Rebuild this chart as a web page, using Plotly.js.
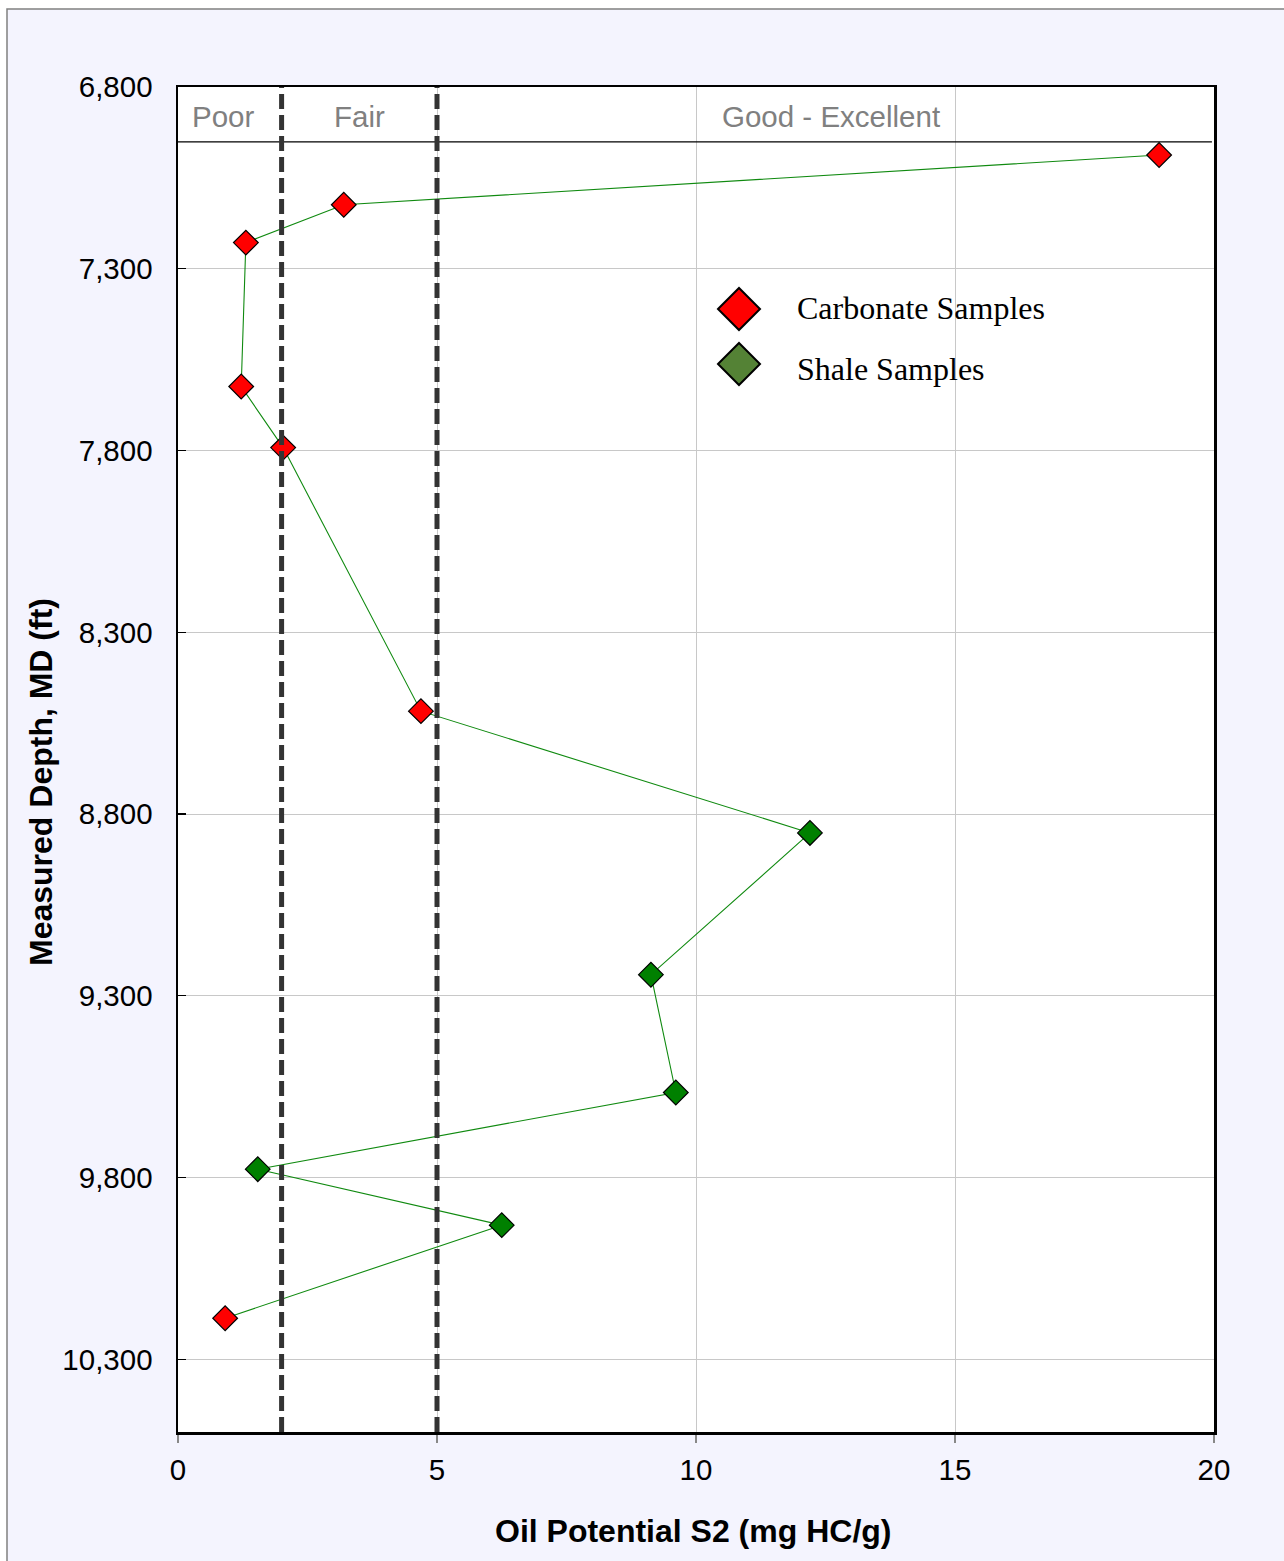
<!DOCTYPE html>
<html>
<head>
<meta charset="utf-8">
<script src="https://cdn.plot.ly/plotly-3.0.1.min.js"></script>
<style>
  html, body { margin: 0; padding: 0; background: #ffffff; }
  #chart { width: 1284px; height: 1561px; }
</style>
</head>
<body>
<div id="chart"></div>
<script>
// Sample depths (ft, MD) and oil potential S2 (mg HC/g), in depth order
const depthFt   = [6987, 7124, 7228, 7624, 7792, 8517, 8852, 9242, 9566, 9777, 9931, 10187];
const s2Values  = [18.94, 3.20, 1.31, 1.22, 2.03, 4.69, 12.20, 9.13, 9.61, 1.54, 6.25, 0.91];
const lithology = ['Carbonate', 'Carbonate', 'Carbonate', 'Carbonate', 'Carbonate', 'Carbonate',
                   'Shale', 'Shale', 'Shale', 'Shale', 'Shale', 'Carbonate'];

// Source-rock quality class boundaries on S2 and their labels
const classLimits = [2, 5];
const classLabels = ['Poor', 'Fair', 'Good - Excellent'];
const classLabelX = [0.87, 3.51, 12.6];
const headerDepth = 6951;

const depthTicks = [6800, 7300, 7800, 8300, 8800, 9300, 9800, 10300];
const legendNames = ['Carbonate Samples', 'Shale Samples'];
const xTitle = 'Oil Potential S2 (mg HC/g)';
const yTitle = 'Measured Depth, MD (ft)';

const SANS = 'Liberation Sans, Arial, sans-serif';
const SERIF = 'Liberation Serif, Times New Roman, serif';
const BG = '#F4F4FE';

// page geometry (px) used to place the frame, legend keys and titles
const W = 1284, H = 1561;
const M = { l: 178, r: 70, t: 87, b: 129 };
const PW = W - M.l - M.r, PH = H - M.t - M.b;
const px = x => (x - M.l) / PW;
const py = y => (H - M.b - y) / PH;

function pick(kind, arr) {
  return arr.filter((_, i) => lithology[i] === kind);
}

const markerBase = { symbol: 'diamond', size: 19, line: { color: '#000000', width: 1.2 } };

const traces = [
  {
    type: 'scatter', mode: 'lines', x: s2Values, y: depthFt,
    line: { color: '#108A10', width: 1.1 }, hoverinfo: 'skip', showlegend: false
  },
  {
    type: 'scatter', mode: 'markers', name: legendNames[0],
    x: pick('Carbonate', s2Values), y: pick('Carbonate', depthFt),
    marker: Object.assign({ color: '#FF0000' }, markerBase), showlegend: false
  },
  {
    type: 'scatter', mode: 'markers', name: legendNames[1],
    x: pick('Shale', s2Values), y: pick('Shale', depthFt),
    marker: Object.assign({ color: '#008000' }, markerBase), showlegend: false
  }
];

const shapes = [
  // page background with its frame
  { type: 'rect', xref: 'paper', yref: 'paper', x0: px(7), x1: px(1300), y0: py(1580), y1: py(9),
    fillcolor: BG, line: { color: '#808080', width: 1.5 }, layer: 'below' },
  // white plotting area
  { type: 'rect', xref: 'paper', yref: 'paper', x0: 0, x1: 1, y0: 0, y1: 1,
    fillcolor: '#FFFFFF', line: { width: 0 }, layer: 'below' },
  // header rule under the class labels
  { type: 'line', xref: 'x domain', yref: 'y', x0: 0, x1: 0.998, y0: headerDepth, y1: headerDepth,
    line: { color: '#000000', width: 1.2 }, layer: 'above' }
];

classLimits.forEach(v => {
  shapes.push({ type: 'line', xref: 'x', yref: 'y domain', x0: v, x1: v, y0: 0, y1: 1,
    line: { color: '#333333', width: 5, dash: '15px,6px' }, layer: 'above' });
});

// legend keys
const legendColors = ['#FF0000', '#548235'];
const keyY = [309, 364];
const keyTextY = [308, 369];
legendColors.forEach((c, i) => {
  shapes.push({ type: 'path', xref: 'paper', yref: 'paper', xsizemode: 'pixel', ysizemode: 'pixel',
    xanchor: px(739), yanchor: py(keyY[i]), path: 'M -21,0 L 0,21 L 21,0 L 0,-21 Z',
    fillcolor: c, line: { color: '#000000', width: 2 }, layer: 'above' });
});

const annotations = classLabels.map((t, i) => ({
  text: t, x: classLabelX[i], y: 6882, xref: 'x', yref: 'y', showarrow: false,
  xanchor: 'center', yanchor: 'middle', font: { family: SANS, size: 29.5, color: '#808080' }
}));

legendNames.forEach((t, i) => {
  annotations.push({ text: t, x: px(795), y: py(keyTextY[i]), xref: 'paper', yref: 'paper',
    showarrow: false, xanchor: 'left', yanchor: 'middle',
    font: { family: SERIF, size: 32, color: '#000000' } });
});

// axis titles
annotations.push({ text: yTitle, x: px(41), y: py(782), xref: 'paper', yref: 'paper',
  showarrow: false, textangle: -90, xanchor: 'center', yanchor: 'middle',
  font: { family: SANS, size: 32, color: '#000000', weight: 'bold' } });
annotations.push({ text: xTitle, x: px(693), y: py(1531), xref: 'paper', yref: 'paper',
  showarrow: false, xanchor: 'center', yanchor: 'middle',
  font: { family: SANS, size: 32, color: '#000000', weight: 'bold' } });

const layout = {
  width: W, height: H,
  margin: M,
  paper_bgcolor: '#FFFFFF', plot_bgcolor: '#FFFFFF',
  showlegend: false,
  xaxis: {
    range: [0, 20], tick0: 0, dtick: 5, showgrid: true, gridcolor: '#C8C8C8', gridwidth: 1,
    zeroline: false, showline: true, linecolor: '#000000', linewidth: 2.5, mirror: true,
    ticks: 'outside', ticklen: 8, tickcolor: '#888888', tickwidth: 1.2, ticklabelstandoff: 2,
    tickfont: { family: SANS, size: 29.5, color: '#000000' }
  },
  yaxis: {
    range: [10500, 6800], tickvals: depthTicks, tickformat: ',d',
    showgrid: true, gridcolor: '#C8C8C8', gridwidth: 1,
    zeroline: false, showline: true, linecolor: '#000000', linewidth: 2.5, mirror: true,
    ticks: 'inside', ticklen: 8, tickcolor: '#000000', tickwidth: 1.2, ticklabelstandoff: 17,
    tickfont: { family: SANS, size: 29.5, color: '#000000' }
  },
  shapes: shapes,
  annotations: annotations
};

Plotly.newPlot('chart', traces, layout, { displayModeBar: false, staticPlot: true });
</script>
</body>
</html>
